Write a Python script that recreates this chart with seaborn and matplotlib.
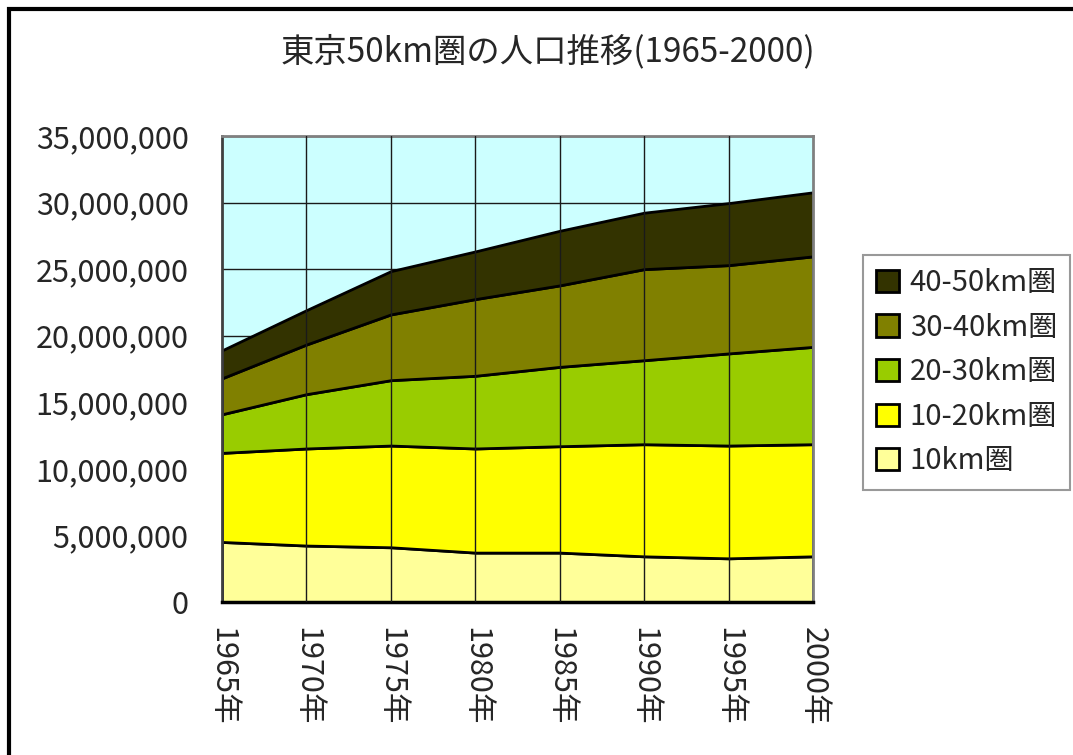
import matplotlib
matplotlib.use("Agg")
from matplotlib import pyplot as plt
from matplotlib.patches import Rectangle, Patch
from matplotlib.ticker import FuncFormatter
import pandas as pd
import seaborn as sns

# data (people)
years = ["1965年", "1970年", "1975年", "1980年", "1985年", "1990年", "1995年", "2000年"]
zone_10 = [4510000, 4240000, 4110000, 3710000, 3710000, 3430000, 3280000, 3430000]
zone_10_20 = [6690000, 7290000, 7640000, 7820000, 7990000, 8420000, 8470000, 8420000]
zone_20_30 = [2900000, 4080000, 4910000, 5460000, 5960000, 6310000, 6920000, 7310000]
zone_30_40 = [2700000, 3730000, 4940000, 5760000, 6120000, 6840000, 6630000, 6800000]
zone_40_50 = [2100000, 2580000, 3250000, 3580000, 4100000, 4240000, 4660000, 4810000]

labels = ["10km圏", "10-20km圏", "20-30km圏", "30-40km圏", "40-50km圏"]
colors = ["#FFFF99", "#FFFF00", "#99CC00", "#808000", "#333300"]

df = pd.DataFrame({
    "year": years,
    labels[0]: zone_10,
    labels[1]: zone_10_20,
    labels[2]: zone_20_30,
    labels[3]: zone_30_40,
    labels[4]: zone_40_50,
})

sns.set_style("white")
plt.rcParams["font.family"] = ["Noto Sans CJK JP", "DejaVu Sans"]

fig = plt.figure(figsize=(10.73, 7.55), dpi=100)
ax = fig.add_axes([222 / 1073, 1 - 602 / 755, (813 - 222) / 1073, (602 - 136) / 755])

x = list(range(len(years)))
ax.set_facecolor("#CCFFFF")
ax.stackplot(x, [df[l] for l in labels], colors=colors, edgecolor="black",
             linewidth=2, zorder=2)

# horizontal grid behind, vertical lines on top
for v in range(5000000, 35000001, 5000000):
    ax.axhline(v, color="#1a1a1a", linewidth=1, zorder=1)
for xi in x[1:-1]:
    ax.axvline(xi, color="#1a1a1a", linewidth=1, zorder=3)

ax.set_xlim(0, len(years) - 1)
ax.set_ylim(0, 35000000)
ax.set_yticks(range(0, 35000001, 5000000))
ax.yaxis.set_major_formatter(FuncFormatter(lambda v, p: f"{int(v):,}"))
ax.set_xticks(x)
ax.set_xticklabels(years, rotation=270, va="top", ha="center")
ax.tick_params(axis="y", direction="in", length=8, width=1.5, labelsize=22, pad=24)
ax.tick_params(axis="x", length=0, labelsize=22, pad=18)

for s in ["top", "right"]:
    ax.spines[s].set_color("#808080")
    ax.spines[s].set_linewidth(2)
ax.spines["left"].set_color("#404040")
ax.spines["left"].set_linewidth(2)
ax.spines["bottom"].set_color("black")
ax.spines["bottom"].set_linewidth(2.5)

fig.text(548 / 1073, 1 - 52 / 755, "東京50km圏の人口推移(1965-2000)",
         ha="center", va="center", fontsize=24)

handles = [Patch(facecolor=c, edgecolor="black", linewidth=2, label=l)
           for l, c in zip(labels, colors)][::-1]
leg = fig.legend(handles=handles, loc="upper left",
                 bbox_to_anchor=(863 / 1073, 1 - 255 / 755),
                 fontsize=21, frameon=True, fancybox=False, handlelength=0.8,
                 handleheight=0.8, handletextpad=0.35, labelspacing=0.5,
                 borderpad=0.45, borderaxespad=0)
leg.get_frame().set_edgecolor("#808080")
leg.get_frame().set_linewidth(1.5)

# outer chart frame
fig.patches.append(Rectangle((9 / 1073, -0.05), 1.1, 1 - 9 / 755 + 0.05,
                             transform=fig.transFigure, fill=False,
                             edgecolor="black", linewidth=3))

fig.savefig("out.png", dpi=100)
plt.close(fig)
